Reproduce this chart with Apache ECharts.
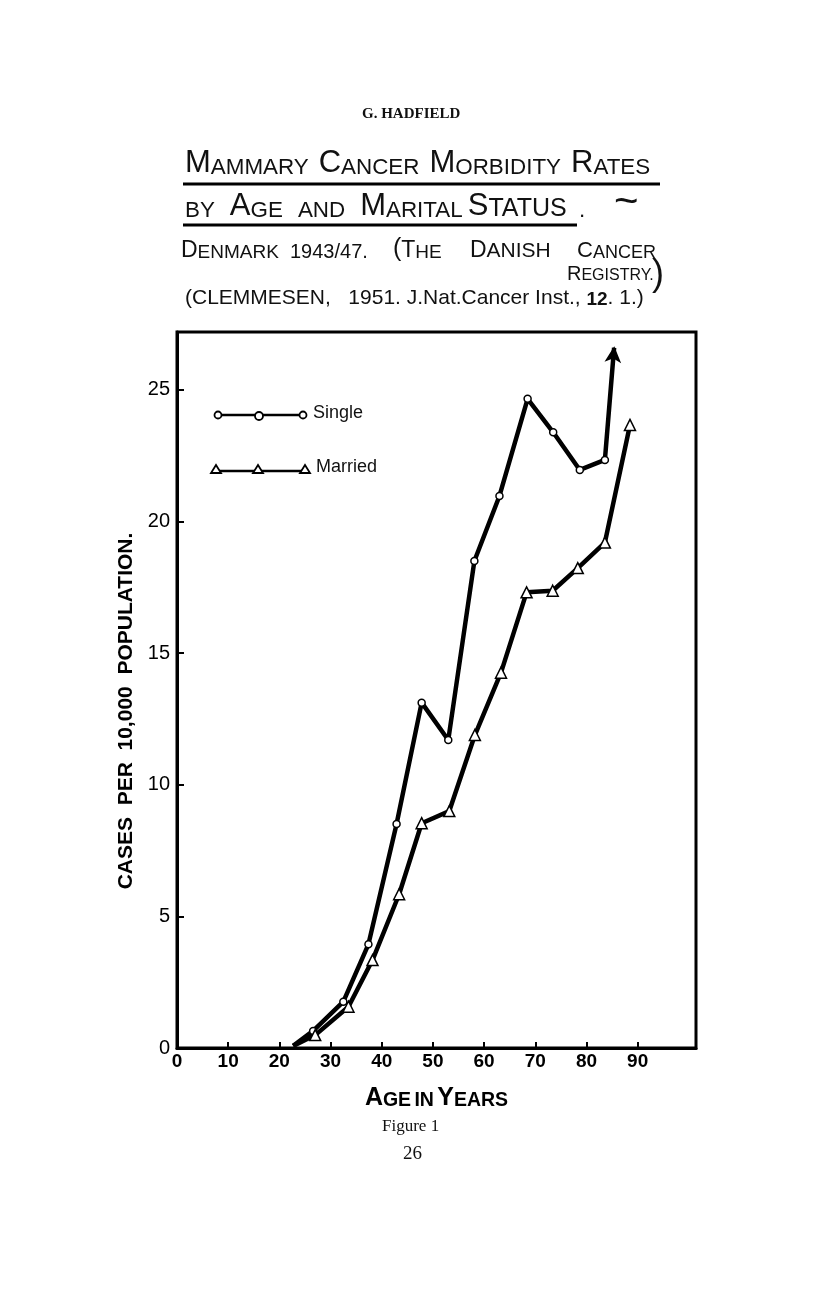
<!DOCTYPE html>
<html><head><meta charset="utf-8">
<script src="https://cdn.jsdelivr.net/npm/echarts@6/dist/echarts.min.js"></script>
<style>html,body{margin:0;padding:0;background:#fff}#c{width:816px;height:1300px}</style>
</head><body><div id="c"></div>
<script>
// ---- data ----
const xTicks = [0, 10, 20, 30, 40, 50, 60, 70, 80, 90];
const yTicks = [0, 5, 10, 15, 20, 25];
const singleAge  = [22.7, 26.6, 32.5, 37.4, 42.9, 47.8, 53.0, 58.1, 63.0, 68.5, 73.5, 78.7, 83.6, 85.4];
const singleRate = [0.08, 0.65, 1.76, 3.94, 8.51, 13.12, 11.70, 18.50, 20.97, 24.66, 23.39, 21.96, 22.34, 26.6];
const marriedAge  = [22.7, 27.0, 33.5, 38.2, 43.4, 47.8, 53.2, 58.2, 63.3, 68.3, 73.4, 78.3, 83.6, 88.5];
const marriedRate = [0.08, 0.49, 1.57, 3.34, 5.84, 8.54, 9.00, 11.89, 14.26, 17.31, 17.37, 18.23, 19.20, 23.67];
const seriesNames = ['Single', 'Married'];

const SANS = '"Liberation Sans", "DejaVu Sans", sans-serif';
const SERIF = '"Liberation Serif", "DejaVu Serif", serif';

function buildData(xs, ys, isSingle) {
  return xs.map((x, i) => {
    const item = { value: [x, ys[i]] };
    if (i === 0) item.symbol = 'none';
    if (isSingle && i === xs.length - 1) {
      item.symbol = 'arrow';
      item.symbolSize = [10, 13];
      item.symbolRotate = -5;
      item.itemStyle = { color: '#000', borderColor: '#000' };
    }
    return item;
  });
}

const chart = echarts.init(document.getElementById('c'), null, { renderer: 'canvas' });

function st(size, lh, weight) {
  return { fontFamily: SANS, fontSize: size, fontWeight: weight || 'normal', color: '#111',
           verticalAlign: 'bottom', lineHeight: lh };
}
const R1 = { B: st(31, 34), s: st(22.4, 34), t: st(25, 34) };
const R3 = { B: st(23, 26), s: st(19, 26), d: st(21, 26), n: st(20, 26), P: st(25, 26) };

function t(text, left, top, rich) {
  return { text: text, left: left, top: top, padding: 0, textStyle: { rich: rich, fontWeight: 'normal' } };
}

chart.setOption({
  animation: false,
  backgroundColor: '#fff',
  title: [
    { text: 'G. HADFIELD', left: 362, top: 107, padding: 0,
      textStyle: { fontFamily: SERIF, fontSize: 15, fontWeight: 'bold', color: '#111' } },
    t('{B|M}{s|AMMARY}  {B|C}{s|ANCER}  {B|M}{s|ORBIDITY}  {B|R}{s|ATES}', 185, 145, R1),
    t('{s|BY}   {B|A}{s|GE}   {s|AND}   {B|M}{s|ARITAL} {B|S}{t|TATUS}{s|  .}', 185, 188, R1),
    { text: '~', left: 614, top: 182, padding: 0, textStyle: { fontFamily: SANS, fontSize: 42, fontWeight: 'normal', color: '#111' } },
    t('{B|D}{s|ENMARK}', 181, 236, R3),
    t('{n|1943/47.}', 290, 236, R3),
    t('{P|(}{B|T}{s|HE}', 393, 236, R3),
    t('{B|D}{d|ANISH}', 470, 236, R3),
    t('{B|C}{s|ANCER}', 577, 236, { B: st(22, 26), s: st(18, 26) }),
    t('{B|R}{s|EGISTRY.}', 567, 260, { B: st(20, 24), s: st(16, 24) }),
    { text: ')', left: 652, top: 257, padding: 0, textStyle: { fontFamily: SANS, fontSize: 36, fontWeight: 'normal', color: '#111' } },
    t('{n|(CLEMMESEN,   1951. J.Nat.Cancer Inst., }{b|12}{n|. 1.)}', 185, 285,
      { n: st(21, 24), b: st(19, 24, 'bold') }),
    { text: 'Figure 1', left: 382, top: 1118, padding: 0,
      textStyle: { fontFamily: SERIF, fontSize: 17, fontWeight: 'normal', color: '#111' } },
    { text: '26', left: 403, top: 1145, padding: 0,
      textStyle: { fontFamily: SERIF, fontSize: 19, fontWeight: 'normal', color: '#111' } }
  ],
  grid: { left: 177, top: 332, width: 519, height: 716, show: true,
          borderColor: '#000', borderWidth: 3, backgroundColor: 'transparent' },
  xAxis: {
    type: 'value', min: 0, max: 101.4, interval: 10,
    name: '{B|A}{s|GE} {s|IN} {B|Y}{s|EARS}', nameLocation: 'middle', nameGap: 39,
    nameTextStyle: { rich: {
      B: { fontFamily: SANS, fontSize: 25, fontWeight: 'bold', color: '#000', verticalAlign: 'bottom', lineHeight: 24 },
      s: { fontFamily: SANS, fontSize: 19.5, fontWeight: 'bold', color: '#000', verticalAlign: 'bottom', lineHeight: 24 } } },
    axisLine: { lineStyle: { color: '#000', width: 3 } },
    axisTick: { show: true, inside: true, length: 6, lineStyle: { color: '#000', width: 2 }, customValues: xTicks },
    axisLabel: { customValues: xTicks, margin: 4, color: '#000', fontFamily: SANS, fontSize: 19, fontWeight: 'bold' },
    splitLine: { show: false }
  },
  yAxis: {
    type: 'value', min: 0, max: 27.2, interval: 5,
    name: 'CASES  PER  10,000  POPULATION.', nameLocation: 'middle', nameRotate: 90, nameGap: 29,
    nameTextStyle: { fontFamily: SANS, fontSize: 21, fontWeight: 'bold', color: '#000', padding: [0, 42, 0, 0] },
    axisLine: { lineStyle: { color: '#000', width: 3 } },
    axisTick: { show: true, inside: true, length: 7, lineStyle: { color: '#000', width: 2 }, customValues: yTicks },
    axisLabel: { customValues: yTicks, margin: 7, color: '#000', fontFamily: SANS, fontSize: 20, fontWeight: 'normal' },
    splitLine: { show: false }
  },
  series: [
    { name: seriesNames[0], type: 'line', data: buildData(singleAge, singleRate, true),
      symbol: 'circle', symbolSize: 7, showAllSymbol: true,
      lineStyle: { color: '#000', width: 4.5 },
      itemStyle: { color: '#fff', borderColor: '#000', borderWidth: 1.5 } },
    { name: seriesNames[1], type: 'line', data: buildData(marriedAge, marriedRate, false),
      symbol: 'triangle', symbolSize: 11, showAllSymbol: true,
      lineStyle: { color: '#000', width: 4.5 },
      itemStyle: { color: '#fff', borderColor: '#000', borderWidth: 1.5 } }
  ],
  graphic: [
    // title underlines
    { type: 'line', shape: { x1: 183, y1: 184, x2: 660, y2: 184 }, style: { stroke: '#000', lineWidth: 3 } },
    { type: 'line', shape: { x1: 183, y1: 225, x2: 577, y2: 225 }, style: { stroke: '#000', lineWidth: 3 } },
    // legend (Single)
    { type: 'line', shape: { x1: 218, y1: 415, x2: 303, y2: 415 }, style: { stroke: '#000', lineWidth: 2.5 } },
    { type: 'circle', shape: { cx: 218, cy: 415, r: 3.5 }, style: { fill: '#fff', stroke: '#000', lineWidth: 1.8 } },
    { type: 'circle', shape: { cx: 259, cy: 416, r: 4 }, style: { fill: '#fff', stroke: '#000', lineWidth: 1.8 } },
    { type: 'circle', shape: { cx: 303, cy: 415, r: 3.5 }, style: { fill: '#fff', stroke: '#000', lineWidth: 1.8 } },
    { type: 'text', left: 313, top: 404, style: { text: 'Single', font: '18px ' + SANS, fill: '#111' } },
    // legend (Married)
    { type: 'line', shape: { x1: 216, y1: 471, x2: 305, y2: 471 }, style: { stroke: '#000', lineWidth: 2.5 } },
    { type: 'polygon', shape: { points: [[216, 465], [211, 473], [221, 473]] }, style: { fill: '#fff', stroke: '#000', lineWidth: 1.8 } },
    { type: 'polygon', shape: { points: [[258, 465], [253, 473], [263, 473]] }, style: { fill: '#fff', stroke: '#000', lineWidth: 1.8 } },
    { type: 'polygon', shape: { points: [[305, 465], [300, 473], [310, 473]] }, style: { fill: '#fff', stroke: '#000', lineWidth: 1.8 } },
    { type: 'text', left: 316, top: 458, style: { text: 'Married', font: '18px ' + SANS, fill: '#111' } }
  ]
});
</script></body></html>
